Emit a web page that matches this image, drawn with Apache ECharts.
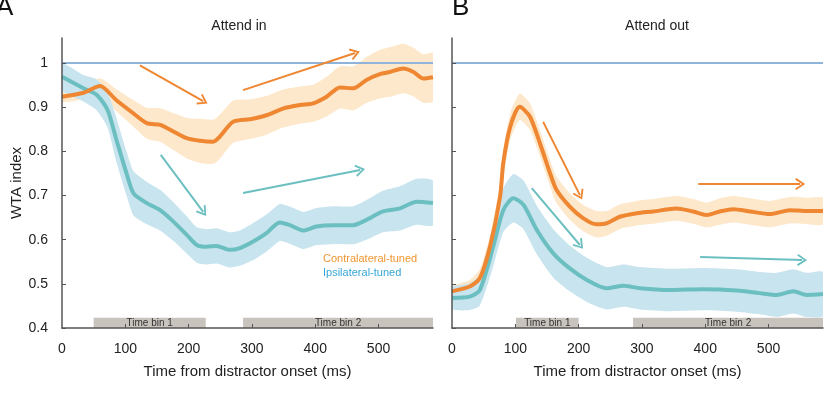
<!DOCTYPE html>
<html>
<head>
<meta charset="utf-8">
<script src="https://cdn.jsdelivr.net/npm/echarts@6/dist/echarts.min.js"></script>
<style>
  html, body { margin: 0; padding: 0; background: #fff; }
  #chart { width: 828px; height: 400px; }
</style>
</head>
<body>
<div id="chart"></div>
<script>
// Attend in - contralateral-tuned (orange)
const contraInX = [0, 34, 60, 86, 113, 134, 155, 176, 197, 218, 239, 249, 270, 297, 323, 349, 376, 397, 418, 439, 460, 481, 502, 518, 539, 555, 571, 586];
const contraInY = [0.924, 0.933, 0.948, 0.916, 0.886, 0.864, 0.860, 0.845, 0.830, 0.824, 0.822, 0.833, 0.867, 0.873, 0.882, 0.897, 0.905, 0.909, 0.924, 0.945, 0.943, 0.962, 0.975, 0.980, 0.988, 0.980, 0.965, 0.968];
const contraInErr = [0.012, 0.015, 0.018, 0.025, 0.03, 0.035, 0.038, 0.042, 0.046, 0.05, 0.05, 0.05, 0.048, 0.045, 0.044, 0.043, 0.042, 0.042, 0.045, 0.048, 0.05, 0.052, 0.055, 0.056, 0.056, 0.055, 0.055, 0.055];

// Attend in - ipsilateral-tuned (teal)
const ipsiInX = [0, 34, 55, 72, 86, 102, 113, 134, 155, 176, 197, 213, 228, 244, 265, 281, 302, 323, 344, 360, 381, 402, 428, 460, 481, 507, 534, 560, 586];
const ipsiInY = [0.969, 0.943, 0.928, 0.894, 0.826, 0.75, 0.705, 0.683, 0.667, 0.641, 0.611, 0.588, 0.584, 0.586, 0.577, 0.581, 0.596, 0.615, 0.639, 0.633, 0.621, 0.630, 0.633, 0.633, 0.645, 0.664, 0.671, 0.686, 0.683];
const ipsiInErr = [0.03, 0.03, 0.035, 0.04, 0.05, 0.05, 0.05, 0.048, 0.046, 0.044, 0.042, 0.04, 0.04, 0.04, 0.04, 0.04, 0.042, 0.042, 0.042, 0.042, 0.042, 0.042, 0.043, 0.043, 0.045, 0.047, 0.05, 0.052, 0.05];

// Attend out - contralateral-tuned
const contraOutX = [0, 28, 44, 60, 76, 81, 92, 107, 123, 139, 155, 165, 186, 207, 228, 244, 265, 292, 318, 355, 381, 402, 423, 444, 471, 502, 534, 560, 586];
const contraOutY = [0.483, 0.494, 0.513, 0.584, 0.698, 0.774, 0.856, 0.901, 0.879, 0.818, 0.750, 0.713, 0.675, 0.649, 0.635, 0.637, 0.652, 0.660, 0.664, 0.671, 0.664, 0.656, 0.664, 0.669, 0.664, 0.658, 0.667, 0.665, 0.665];
const contraOutErr = [0.012, 0.015, 0.02, 0.025, 0.03, 0.03, 0.03, 0.03, 0.03, 0.03, 0.03, 0.03, 0.03, 0.03, 0.03, 0.028, 0.028, 0.028, 0.028, 0.028, 0.028, 0.028, 0.03, 0.03, 0.03, 0.03, 0.03, 0.03, 0.03];

// Attend out - ipsilateral-tuned
const ipsiOutX = [0, 28, 44, 65, 81, 97, 113, 134, 160, 186, 213, 244, 271, 297, 344, 397, 450, 486, 513, 539, 560, 586];
const ipsiOutY = [0.468, 0.471, 0.486, 0.584, 0.667, 0.694, 0.679, 0.622, 0.569, 0.535, 0.509, 0.490, 0.496, 0.490, 0.486, 0.488, 0.485, 0.479, 0.475, 0.483, 0.475, 0.477];
const ipsiOutErr = [0.025, 0.03, 0.035, 0.045, 0.05, 0.055, 0.055, 0.055, 0.055, 0.052, 0.05, 0.048, 0.048, 0.048, 0.048, 0.048, 0.048, 0.048, 0.05, 0.05, 0.05, 0.05];

// time bins [start, end] in ms
const binsIn = [[50, 227, 'Time bin 1'], [286, 586, 'Time bin 2']];
const binsOut = [[101, 200, 'Time bin 1'], [286, 586, 'Time bin 2']];

// trend arrows [x1, y1, x2, y2]
const arrowsInContra = [[123, 0.995, 223, 0.914], [286, 0.939, 463, 1.023]];
const arrowsInIpsi = [[156, 0.792, 223, 0.663], [286, 0.706, 471, 0.758]];
const arrowsOutContra = [[144, 0.867, 202, 0.701], [389, 0.726, 550, 0.726]];
const arrowsOutIpsi = [[126, 0.717, 202, 0.588], [392, 0.561, 553, 0.554]];

const yTicks = [0.4, 0.5, 0.6, 0.7, 0.8, 0.9, 1];
const xTicks = [0, 100, 200, 300, 400, 500];

const ORANGE = '#ef8631';
const TEAL = '#6cbfc0';
const ORANGE_BAND = '#fde8cb';
const TEAL_BAND = '#c8e4ee';
const FONT = 'Liberation Sans, Arial, sans-serif';
const CHEVRON = 'path://M0,9 L6,0 L12,9 L10.4,10 L6,3.2 L1.6,10 Z';

const chart = echarts.init(document.getElementById('chart'));

function zip(xs, ys) {
    return xs.map((x, i) => [x, ys[i]]);
}

function band(xs, ys, err, idx, color) {
    return {
        type: 'custom',
        xAxisIndex: idx,
        yAxisIndex: idx,
        z: 1,
        silent: true,
        clip: true,
        data: [0],
        renderItem: function (params, api) {
            const upper = xs.map((x, i) => api.coord([x, ys[i] + err[i]]));
            const lower = xs.map((x, i) => api.coord([x, ys[i] - err[i]])).reverse();
            return {
                type: 'polygon',
                shape: { points: upper.concat(lower), smooth: 0.2 },
                style: { fill: color }
            };
        }
    };
}

function arrowData(list, color) {
    return list.map(a => [
        { coord: [a[0], a[1]], symbol: 'none', lineStyle: { color: color, width: 2, type: 'solid' } },
        { coord: [a[2], a[3]], symbol: CHEVRON }
    ]);
}

function meanLine(name, xs, ys, idx, color, arrows, extraMarks) {
    return {
        type: 'line',
        name: name,
        xAxisIndex: idx,
        yAxisIndex: idx,
        z: 3,
        data: zip(xs, ys),
        smooth: 0.25,
        showSymbol: false,
        lineStyle: { color: color, width: 4 },
        itemStyle: { color: color },
        markLine: {
            silent: true,
            symbol: ['none', 'none'],
            symbolSize: [12, 10],
            label: { show: false },
            lineStyle: { type: 'solid' },
            data: arrowData(arrows, color).concat(extraMarks || [])
        }
    };
}

function binSeries(bins, idx) {
    return {
        type: 'line',
        xAxisIndex: idx,
        yAxisIndex: idx,
        data: [],
        z: 2,
        markArea: {
            silent: true,
            itemStyle: { color: '#c9c3bd', opacity: 1 },
            label: { show: true, position: 'inside', fontSize: 10, color: '#333', fontFamily: FONT },
            data: bins.map(b => [
                { xAxis: b[0], yAxis: 0.4, name: b[2] },
                { xAxis: b[1], yAxis: 0.423 }
            ])
        }
    };
}

const refLine = [{ yAxis: 1, lineStyle: { color: '#8fb3d9', width: 2, type: 'solid' } }];

function xAxis(idx) {
    return {
        type: 'value',
        gridIndex: idx,
        min: 0,
        max: 586,
        interval: 100,
        z: 10,
        name: 'Time from distractor onset (ms)',
        nameLocation: 'middle',
        nameGap: 36,
        nameTextStyle: { fontSize: 15, color: '#222', fontFamily: FONT },
        axisLine: { lineStyle: { color: '#555', width: 1.5 } },
        axisTick: { inside: true, length: 4, customValues: [100, 200, 300, 400, 500], lineStyle: { color: '#555' } },
        axisLabel: { customValues: xTicks, fontSize: 14, color: '#222', margin: 14, fontFamily: FONT },
        splitLine: { show: false }
    };
}

function yAxis(idx, labels) {
    return {
        type: 'value',
        gridIndex: idx,
        min: 0.4,
        max: 1.057,
        interval: 0.1,
        z: 10,
        name: labels ? 'WTA index' : '',
        nameLocation: 'middle',
        nameGap: 38,
        nameTextStyle: { fontSize: 15, color: '#222', fontFamily: FONT },
        axisLine: { lineStyle: { color: '#555', width: 1.5 } },
        axisTick: { inside: true, length: 4, customValues: yTicks, lineStyle: { color: '#555' } },
        axisLabel: {
            show: labels,
            customValues: yTicks,
            fontSize: 14,
            color: '#222',
            margin: 14,
            fontFamily: FONT,
            formatter: v => (v === 1 ? '1' : v.toFixed(1))
        },
        splitLine: { show: false }
    };
}

const option = {
    animation: false,
    textStyle: { fontFamily: FONT },
    grid: [
        { left: 62, top: 38, width: 371, height: 290 },
        { left: 452, top: 38, width: 371, height: 290 }
    ],
    xAxis: [xAxis(0), xAxis(1)],
    yAxis: [yAxis(0, true), yAxis(1, false)],
    legend: {
        left: 312,
        top: 248,
        orient: 'vertical',
        itemWidth: 0,
        itemHeight: 0,
        itemGap: 3,
        selectedMode: false,
        textStyle: { fontSize: 11, fontFamily: FONT },
        data: [
            { name: 'Contralateral-tuned', textStyle: { color: '#f0962f' } },
            { name: 'Ipsilateral-tuned', textStyle: { color: '#35a6d6' } }
        ]
    },
    graphic: [
        { type: 'text', x: 239, y: 26, style: { text: 'Attend in', font: '14px ' + FONT, fill: '#222', align: 'center', verticalAlign: 'middle' } },
        { type: 'text', x: 657, y: 26, style: { text: 'Attend out', font: '14px ' + FONT, fill: '#222', align: 'center', verticalAlign: 'middle' } },
        { type: 'text', x: -4, y: 8, style: { text: 'A', font: '26px ' + FONT, fill: '#111', align: 'left', verticalAlign: 'middle' } },
        { type: 'text', x: 452, y: 8, style: { text: 'B', font: '26px ' + FONT, fill: '#111', align: 'left', verticalAlign: 'middle' } }
    ],
    series: [
        band(contraInX, contraInY, contraInErr, 0, ORANGE_BAND),
        band(ipsiInX, ipsiInY, ipsiInErr, 0, TEAL_BAND),
        band(contraOutX, contraOutY, contraOutErr, 1, ORANGE_BAND),
        band(ipsiOutX, ipsiOutY, ipsiOutErr, 1, TEAL_BAND),
        binSeries(binsIn, 0),
        binSeries(binsOut, 1),
        meanLine('Ipsilateral-tuned', ipsiInX, ipsiInY, 0, TEAL, arrowsInIpsi, refLine),
        meanLine('Contralateral-tuned', contraInX, contraInY, 0, ORANGE, arrowsInContra),
        meanLine('Ipsilateral-tuned', ipsiOutX, ipsiOutY, 1, TEAL, arrowsOutIpsi, refLine),
        meanLine('Contralateral-tuned', contraOutX, contraOutY, 1, ORANGE, arrowsOutContra)
    ]
};

chart.setOption(option);
window.addEventListener('resize', function () {
    chart.resize();
});
</script>
</body>
</html>
